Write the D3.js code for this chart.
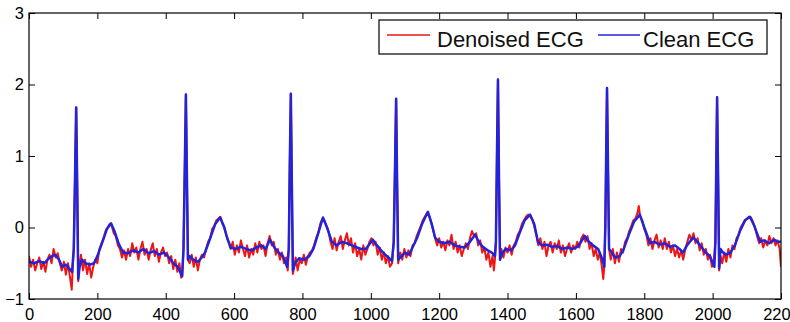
<!DOCTYPE html>
<html>
<head>
<meta charset="utf-8">
<script src="https://cdn.jsdelivr.net/npm/d3@7"></script>
<style>
	html, body { margin: 0; padding: 0; background: #fff; }
	svg { display: block; font-family: "Liberation Sans", Arial, sans-serif; }
</style>
</head>
<body>
<div id="chart"></div>
<script>
const xTicks = [0, 200, 400, 600, 800, 1000, 1200, 1400, 1600, 1800, 2000, 2200]
const yTicks = [-1, 0, 1, 2, 3]
const seriesNames = ["Denoised ECG", "Clean ECG"]

// clean ECG, [sample, amplitude]
const cleanEcg = [
	[0,-0.48],[15,-0.5],[30,-0.47],[45,-0.5],[60,-0.42],[76,-0.38],[88,-0.45],[97,-0.55],[108,-0.52],[117,-0.57],
	[126,-0.62],[131,-0.3],[135,0.8],[138,1.68],[141,0.6],[144,-0.72],[148,-0.55],[155,-0.45],[165,-0.5],[178,-0.52],
	[190,-0.5],[200,-0.4],[215,-0.2],[228,-0.02],[240,0.06],[250,-0.05],[262,-0.22],[275,-0.35],[290,-0.36],[305,-0.32],
	[320,-0.35],[335,-0.3],[350,-0.36],[365,-0.33],[380,-0.38],[395,-0.35],[410,-0.42],[422,-0.5],[435,-0.55],[448,-0.68],
	[452,-0.3],[456,0.9],[459,1.86],[462,0.7],[465,-0.45],[470,-0.4],[480,-0.45],[495,-0.48],[505,-0.42],[515,-0.35],
	[530,-0.15],[545,0.05],[559,0.14],[570,0.02],[580,-0.15],[590,-0.28],[605,-0.3],[620,-0.27],[635,-0.3],[650,-0.32],
	[665,-0.28],[680,-0.25],[692,-0.3],[705,-0.17],[718,-0.28],[730,-0.35],[743,-0.4],[755,-0.55],[760,-0.3],[763,0.9],
	[766,1.87],[769,0.6],[772,-0.6],[778,-0.5],[790,-0.43],[805,-0.45],[820,-0.4],[832,-0.3],[845,-0.1],[860,0.14],
	[872,0.0],[886,-0.2],[900,-0.25],[915,-0.2],[930,-0.22],[945,-0.25],[960,-0.28],[972,-0.3],[985,-0.3],[998,-0.22],
	[1006,-0.17],[1018,-0.25],[1030,-0.32],[1042,-0.38],[1052,-0.42],[1062,-0.47],[1067,-0.2],[1071,0.9],[1074,1.8],[1077,0.6],
	[1080,-0.45],[1090,-0.4],[1100,-0.35],[1112,-0.38],[1122,-0.28],[1135,-0.15],[1150,0.05],[1167,0.22],[1178,0.05],[1188,-0.14],
	[1200,-0.2],[1215,-0.22],[1230,-0.2],[1245,-0.25],[1260,-0.27],[1275,-0.28],[1290,-0.2],[1305,-0.1],[1318,-0.22],[1330,-0.28],
	[1342,-0.32],[1354,-0.35],[1363,-0.4],[1366,-0.2],[1369,1.0],[1372,2.07],[1375,0.7],[1378,-0.45],[1385,-0.35],[1395,-0.3],
	[1410,-0.32],[1422,-0.25],[1435,-0.08],[1450,0.1],[1466,0.18],[1478,0.05],[1489,-0.2],[1500,-0.25],[1515,-0.24],[1530,-0.27],
	[1545,-0.26],[1560,-0.3],[1575,-0.28],[1590,-0.3],[1605,-0.27],[1615,-0.2],[1626,-0.12],[1638,-0.2],[1650,-0.25],[1665,-0.3],
	[1678,-0.45],[1683,-0.55],[1686,0.0],[1689,1.2],[1691,1.95],[1694,0.8],[1697,-0.3],[1705,-0.35],[1715,-0.42],[1728,-0.4],
	[1740,-0.3],[1755,-0.1],[1770,0.08],[1787,0.18],[1800,0.0],[1817,-0.22],[1830,-0.2],[1845,-0.24],[1860,-0.22],[1875,-0.27],
	[1890,-0.25],[1903,-0.3],[1913,-0.35],[1925,-0.25],[1943,-0.14],[1955,-0.2],[1968,-0.28],[1980,-0.35],[1992,-0.4],[2005,-0.55],
	[2008,-0.2],[2011,1.0],[2013,1.82],[2016,0.7],[2019,-0.57],[2023,-0.3],[2030,-0.35],[2040,-0.38],[2052,-0.35],[2065,-0.25],
	[2080,-0.05],[2095,0.1],[2109,0.15],[2122,0.02],[2139,-0.2],[2150,-0.18],[2165,-0.22],[2180,-0.17],[2190,-0.2],[2200,-0.2]
]

// denoised ECG (noisy), [sample, amplitude]
const denoisedEcg = [
	[0,-0.4],[6,-0.55],[12,-0.45],[18,-0.6],[24,-0.5],[30,-0.42],[36,-0.58],[42,-0.48],[48,-0.62],[54,-0.45],
	[60,-0.38],[66,-0.5],[72,-0.3],[78,-0.42],[84,-0.36],[90,-0.5],[96,-0.6],[102,-0.48],[108,-0.66],[114,-0.5],
	[120,-0.7],[125,-0.87],[128,-0.55],[131,-0.3],[135,0.8],[138,1.68],[141,0.6],[144,-0.75],[148,-0.5],[152,-0.38],
	[158,-0.6],[164,-0.45],[170,-0.65],[176,-0.5],[182,-0.7],[188,-0.55],[194,-0.45],[200,-0.5],[206,-0.3],[212,-0.22],
	[218,-0.15],[224,-0.05],[230,0.0],[236,0.05],[242,0.02],[248,-0.08],[254,-0.12],[260,-0.25],[266,-0.3],[272,-0.42],
	[278,-0.32],[284,-0.45],[290,-0.3],[296,-0.4],[302,-0.22],[308,-0.35],[314,-0.28],[320,-0.45],[326,-0.3],[332,-0.2],
	[338,-0.38],[344,-0.3],[350,-0.45],[356,-0.32],[362,-0.22],[368,-0.4],[374,-0.3],[380,-0.48],[386,-0.35],[392,-0.28],
	[398,-0.4],[404,-0.35],[410,-0.5],[416,-0.4],[422,-0.58],[428,-0.45],[434,-0.62],[440,-0.5],[445,-0.7],[448,-0.68],
	[452,-0.3],[456,0.9],[459,1.86],[462,0.7],[465,-0.45],[470,-0.5],[476,-0.38],[482,-0.55],[488,-0.42],[494,-0.6],
	[500,-0.45],[506,-0.38],[512,-0.42],[518,-0.3],[524,-0.2],[530,-0.15],[536,-0.02],[542,0.02],[548,0.1],[554,0.12],
	[560,0.15],[566,0.05],[572,0.0],[578,-0.12],[584,-0.2],[590,-0.3],[596,-0.2],[602,-0.38],[608,-0.25],[614,-0.35],
	[620,-0.18],[626,-0.3],[632,-0.4],[638,-0.25],[644,-0.42],[650,-0.3],[656,-0.38],[662,-0.22],[668,-0.35],[674,-0.2],
	[680,-0.3],[686,-0.25],[692,-0.4],[698,-0.22],[704,-0.12],[710,-0.25],[716,-0.2],[722,-0.38],[728,-0.3],[734,-0.45],
	[740,-0.35],[746,-0.5],[752,-0.42],[757,-0.6],[760,-0.3],[763,0.9],[766,1.87],[769,0.6],[772,-0.65],[776,-0.55],
	[780,-0.42],[786,-0.6],[792,-0.45],[798,-0.5],[804,-0.38],[810,-0.52],[816,-0.4],[822,-0.35],[828,-0.32],[834,-0.25],
	[840,-0.15],[846,-0.08],[852,0.05],[858,0.12],[864,0.1],[870,0.02],[876,-0.05],[882,-0.2],[888,-0.3],[894,-0.15],
	[900,-0.32],[906,-0.2],[912,-0.12],[918,-0.3],[924,-0.18],[930,-0.08],[936,-0.25],[942,-0.15],[948,-0.35],[954,-0.22],
	[960,-0.4],[966,-0.3],[972,-0.45],[978,-0.25],[984,-0.38],[990,-0.3],[996,-0.2],[1002,-0.15],[1008,-0.25],[1014,-0.2],
	[1020,-0.38],[1026,-0.28],[1032,-0.45],[1038,-0.35],[1044,-0.5],[1050,-0.4],[1056,-0.55],[1062,-0.5],[1067,-0.2],[1071,0.9],
	[1074,1.8],[1077,0.6],[1080,-0.5],[1086,-0.35],[1092,-0.45],[1098,-0.3],[1104,-0.42],[1110,-0.32],[1116,-0.4],[1122,-0.25],
	[1128,-0.22],[1134,-0.12],[1140,-0.05],[1146,0.02],[1152,0.1],[1158,0.15],[1164,0.2],[1170,0.18],[1176,0.08],[1182,-0.02],
	[1188,-0.15],[1194,-0.25],[1200,-0.15],[1206,-0.28],[1212,-0.2],[1218,-0.32],[1224,-0.18],[1230,-0.25],[1236,-0.1],[1242,-0.3],
	[1248,-0.2],[1254,-0.35],[1260,-0.25],[1266,-0.4],[1272,-0.3],[1278,-0.22],[1284,-0.3],[1290,-0.15],[1296,-0.05],[1302,-0.12],
	[1308,-0.08],[1314,-0.25],[1320,-0.18],[1326,-0.35],[1332,-0.28],[1338,-0.45],[1344,-0.35],[1350,-0.55],[1356,-0.4],[1360,-0.6],
	[1363,-0.45],[1366,-0.2],[1369,1.0],[1372,2.07],[1375,0.7],[1378,-0.45],[1382,-0.3],[1388,-0.42],[1394,-0.28],[1400,-0.35],
	[1406,-0.25],[1412,-0.38],[1418,-0.25],[1424,-0.2],[1430,-0.1],[1436,-0.05],[1442,0.05],[1448,0.1],[1454,0.15],[1460,0.18],
	[1466,0.16],[1472,0.12],[1478,0.02],[1484,-0.1],[1490,-0.25],[1496,-0.15],[1502,-0.3],[1508,-0.2],[1514,-0.4],[1520,-0.25],
	[1526,-0.2],[1532,-0.35],[1538,-0.22],[1544,-0.3],[1550,-0.18],[1556,-0.35],[1562,-0.25],[1568,-0.4],[1574,-0.3],[1580,-0.22],
	[1586,-0.35],[1592,-0.25],[1598,-0.3],[1604,-0.2],[1610,-0.28],[1616,-0.15],[1622,-0.1],[1628,-0.2],[1634,-0.12],[1640,-0.3],
	[1646,-0.22],[1652,-0.4],[1658,-0.3],[1664,-0.45],[1670,-0.35],[1676,-0.55],[1680,-0.72],[1683,-0.55],[1686,0.0],[1689,1.2],
	[1691,1.95],[1694,0.8],[1697,-0.3],[1702,-0.45],[1708,-0.3],[1714,-0.5],[1720,-0.35],[1726,-0.48],[1732,-0.3],[1738,-0.35],
	[1744,-0.2],[1750,-0.15],[1756,-0.05],[1762,0.02],[1768,0.1],[1774,0.12],[1780,0.2],[1784,0.3],[1788,0.15],[1794,0.1],
	[1800,-0.02],[1806,-0.1],[1812,-0.25],[1818,-0.15],[1824,-0.3],[1830,-0.18],[1836,-0.1],[1842,-0.28],[1848,-0.18],[1854,-0.3],
	[1860,-0.15],[1866,-0.3],[1872,-0.2],[1878,-0.35],[1884,-0.25],[1890,-0.4],[1896,-0.3],[1902,-0.42],[1908,-0.32],[1914,-0.45],
	[1920,-0.3],[1926,-0.2],[1932,-0.1],[1938,-0.18],[1944,-0.08],[1950,-0.22],[1956,-0.15],[1962,-0.32],[1968,-0.22],[1974,-0.38],
	[1980,-0.3],[1986,-0.45],[1992,-0.38],[1998,-0.55],[2003,-0.5],[2008,-0.2],[2011,1.0],[2013,1.82],[2016,0.7],[2019,-0.6],
	[2023,-0.4],[2028,-0.5],[2034,-0.35],[2040,-0.48],[2046,-0.3],[2052,-0.42],[2058,-0.25],[2064,-0.3],[2070,-0.15],[2076,-0.1],
	[2082,0.0],[2088,0.05],[2094,0.1],[2100,0.12],[2106,0.15],[2112,0.14],[2118,0.08],[2124,0.0],[2130,-0.12],[2136,-0.22],
	[2142,-0.15],[2148,-0.28],[2154,-0.18],[2160,-0.25],[2166,-0.12],[2172,-0.22],[2178,-0.15],[2184,-0.25],[2190,-0.18],[2196,-0.3],
	[2200,-0.55]
]

const width = 790
const height = 322
const marginLeft = 29
const marginRight = 9
const marginTop = 13
const marginBottom = 23
const redColor = "#ee1515"
const blueColor = "#2323d8"

const x = d3
	.scaleLinear()
	.domain([0, 2200])
	.range([marginLeft, width - marginRight])
const y = d3
	.scaleLinear()
	.domain([-1, 3])
	.range([height - marginBottom, marginTop])

const svg = d3.select("#chart").append("svg").attr("width", width).attr("height", height)

svg.append("defs")
	.append("clipPath")
	.attr("id", "plot-clip")
	.append("rect")
	.attr("x", marginLeft)
	.attr("y", marginTop)
	.attr("width", width - marginLeft - marginRight)
	.attr("height", height - marginTop - marginBottom)

const line = d3
	.line()
	.x(d => x(d[0]))
	.y(d => y(d[1]))

const plot = svg.append("g").attr("clip-path", "url(#plot-clip)")

plot.append("path")
	.datum(denoisedEcg)
	.attr("fill", "none")
	.attr("stroke", redColor)
	.attr("stroke-width", 2)
	.attr("stroke-linejoin", "round")
	.attr("d", line)

plot.append("path")
	.datum(cleanEcg)
	.attr("fill", "none")
	.attr("stroke", blueColor)
	.attr("stroke-width", 2.5)
	.attr("stroke-linejoin", "round")
	.attr("d", line)

// axes with inward ticks on all four sides, matlab style
const tickSize = 6
const axisStyle = g => {
	g.selectAll(".domain").remove()
	g.selectAll(".tick line").attr("stroke", "#000")
	g.selectAll("text").attr("fill", "#000").style("font-size", "16.5px")
}

svg.append("g")
	.attr("transform", `translate(0,${y(-1)})`)
	.call(d3.axisBottom(x).tickValues(xTicks).tickSizeInner(-tickSize).tickPadding(9).tickFormat(d3.format("d")))
	.call(axisStyle)

svg.append("g")
	.attr("transform", `translate(0,${y(3)})`)
	.call(d3.axisTop(x).tickValues(xTicks).tickSizeInner(-tickSize).tickFormat(""))
	.call(axisStyle)

svg.append("g")
	.attr("transform", `translate(${x(0)},0)`)
	.call(d3.axisLeft(y).tickValues(yTicks).tickSizeInner(-tickSize).tickPadding(5).tickFormat(d3.format("d")))
	.call(axisStyle)

svg.append("g")
	.attr("transform", `translate(${x(2200)},0)`)
	.call(d3.axisRight(y).tickValues(yTicks).tickSizeInner(-tickSize).tickFormat(""))
	.call(axisStyle)

svg.append("rect")
	.attr("x", x(0))
	.attr("y", y(3))
	.attr("width", x(2200) - x(0))
	.attr("height", y(-1) - y(3))
	.attr("fill", "none")
	.attr("stroke", "#000")
	.attr("stroke-width", 1.2)

// legend
const legend = svg.append("g").attr("transform", "translate(379,20)")
legend.append("rect")
	.attr("width", 388)
	.attr("height", 34)
	.attr("fill", "#fff")
	.attr("stroke", "#000")
	.attr("stroke-width", 1.2)

const legendItems = [
	{ name: seriesNames[0], color: redColor, x0: 8, x1: 51, tx: 58 },
	{ name: seriesNames[1], color: blueColor, x0: 219, x1: 261, tx: 264 }
]

legend.selectAll(".legend-line")
	.data(legendItems)
	.enter()
	.append("line")
	.attr("class", "legend-line")
	.attr("x1", d => d.x0)
	.attr("x2", d => d.x1)
	.attr("y1", 15)
	.attr("y2", 15)
	.attr("stroke", d => d.color)
	.attr("stroke-width", 1.5)

legend.selectAll(".legend-text")
	.data(legendItems)
	.enter()
	.append("text")
	.attr("class", "legend-text")
	.attr("x", d => d.tx)
	.attr("y", 27)
	.attr("fill", "#111")
	.style("font-size", "22px")
	.text(d => d.name)
</script>
</body>
</html>
